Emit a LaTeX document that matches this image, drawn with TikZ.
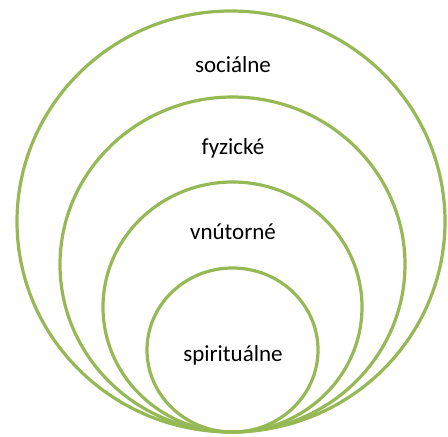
\documentclass[tikz,border=0pt]{standalone}
\usepackage{fontspec}
\setmainfont{Carlito}
\definecolor{ring}{RGB}{150,185,85}
\begin{document}
\begin{tikzpicture}[x=1pt,y=-1pt,
  ringline/.style={draw=ring,line width=3.2pt},
  lbl/.style={font=\fontsize{23}{27}\selectfont,text=black,inner sep=0pt}]
\useasboundingbox (0,0) rectangle (448,437);
\draw[ringline] (231,221.5) ellipse [x radius=214,y radius=210.5];
\draw[ringline] (232.5,264.5) ellipse [x radius=172.5,y radius=167.5];
\draw[ringline] (232.5,307) ellipse [x radius=129.5,y radius=125];
\draw[ringline] (232.5,350) ellipse [x radius=85.5,y radius=82];
\node[lbl] (soc) at (233,65) {sociálne};
\node[lbl] (fyz) at (233,148) {fyzické};
\node[lbl] (vnu) at (233,232) {vnútorné};
\node[lbl] (spi) at (233,355) {spirituálne};
\end{tikzpicture}
\end{document}
